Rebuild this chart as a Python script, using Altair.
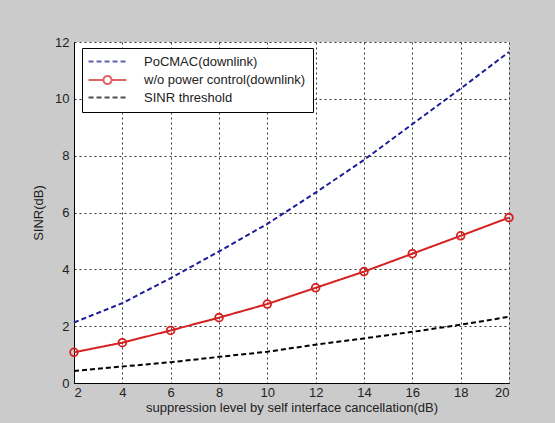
import altair as alt
import pandas as pd

x_vals = [2, 4, 6, 8, 10, 12, 14, 16, 18, 20]
pocmac = [2.13, 2.81, 3.69, 4.63, 5.60, 6.70, 7.85, 9.11, 10.36, 11.65]
wo_pc = [1.08, 1.42, 1.85, 2.30, 2.78, 3.35, 3.92, 4.55, 5.18, 5.82]
threshold = [0.42, 0.58, 0.73, 0.92, 1.10, 1.35, 1.57, 1.80, 2.05, 2.33]
series_names = ["PoCMAC(downlink)", "w/o power control(downlink)", "SINR threshold"]
x_ticks = [2, 4, 6, 8, 10, 12, 14, 16, 18, 20]
y_ticks = [0, 2, 4, 6, 8, 10, 12]

rows = []
for name, vals in zip(series_names, [pocmac, wo_pc, threshold]):
    for xv, yv in zip(x_vals, vals):
        rows.append({"x": xv, "y": yv, "series": name})
df = pd.DataFrame(rows)

colors = ["#1c1c96", "#d42222", "#000000"]
dashes = [[5, 3], [1, 0], [5, 3]]
legend_shapes = [
    "M-4,0H4",
    "M-4,0H-0.85M0.85,0H4M0.85,0A0.85,0.85 0 1,1 -0.85,0A0.85,0.85 0 1,1 0.85,0",
    "M-4,0H4",
]

FONT = "Arial"

xenc = alt.X("x:Q", scale=alt.Scale(domain=[2, 20], nice=False),
             axis=alt.Axis(values=x_ticks, title="suppression level by self interface cancellation(dB)"))
yenc = alt.Y("y:Q", scale=alt.Scale(domain=[0, 12], nice=False),
             axis=alt.Axis(values=y_ticks, title="SINR(dB)"))

color_enc = alt.Color("series:N", scale=alt.Scale(domain=series_names, range=colors),
                      sort=series_names,
                      legend=alt.Legend(title=None, orient="none", legendX=8, legendY=6,
                                        symbolSize=90, symbolStrokeWidth=2, symbolOffset=12,
                                        labelFontSize=13, labelFont=FONT, labelColor="#222",
                                        fillColor="white", strokeColor="black", padding=7,
                                        rowPadding=2.5, labelOffset=30, labelLimit=400))
dash_enc = alt.StrokeDash("series:N", scale=alt.Scale(domain=series_names, range=dashes),
                          sort=series_names, legend=alt.Legend(title=None))

lines = alt.Chart(df).mark_line(strokeWidth=2).encode(
    x=xenc, y=yenc, color=color_enc, strokeDash=dash_enc, detail="series:N"
)

# empty layer that only carries the legend symbol shapes
legend_layer = alt.Chart(df).transform_filter(
    alt.datum.y < -1000
).mark_point(filled=False).encode(
    x=xenc, y=yenc, color=color_enc,
    shape=alt.Shape("series:N", scale=alt.Scale(domain=series_names, range=legend_shapes),
                    sort=series_names, legend=alt.Legend(title=None)),
)

pts = alt.Chart(df).transform_filter(
    alt.datum.series == series_names[1]
).mark_point(shape="circle", filled=False, strokeWidth=1.8, size=60, opacity=1).encode(
    x=xenc, y=yenc, color=color_enc,
)

chart = alt.layer(lines, legend_layer, pts).properties(
    width=435, height=341,
    autosize=alt.AutoSizeParams(type="none"),
    padding={"left": 74, "top": 42, "right": 46, "bottom": 40},
    background="#cbcbcb",
).configure_view(
    fill="white", stroke=None
).configure_axis(
    grid=True, gridColor="black", gridDash=[2, 3], gridOpacity=1, gridWidth=0.8,
    domainColor="black", domainWidth=1, ticks=False,
    labelFont=FONT, labelFontSize=13, labelColor="#222",
    titleFont=FONT, titleFontSize=13, titleFontWeight="normal", titleColor="#222",
).configure_axisX(
    labelPadding=3, titlePadding=2
).configure_axisY(
    labelPadding=5, titlePadding=9
)

chart.save("out.html", embed_options={"renderer": "svg", "actions": False})
